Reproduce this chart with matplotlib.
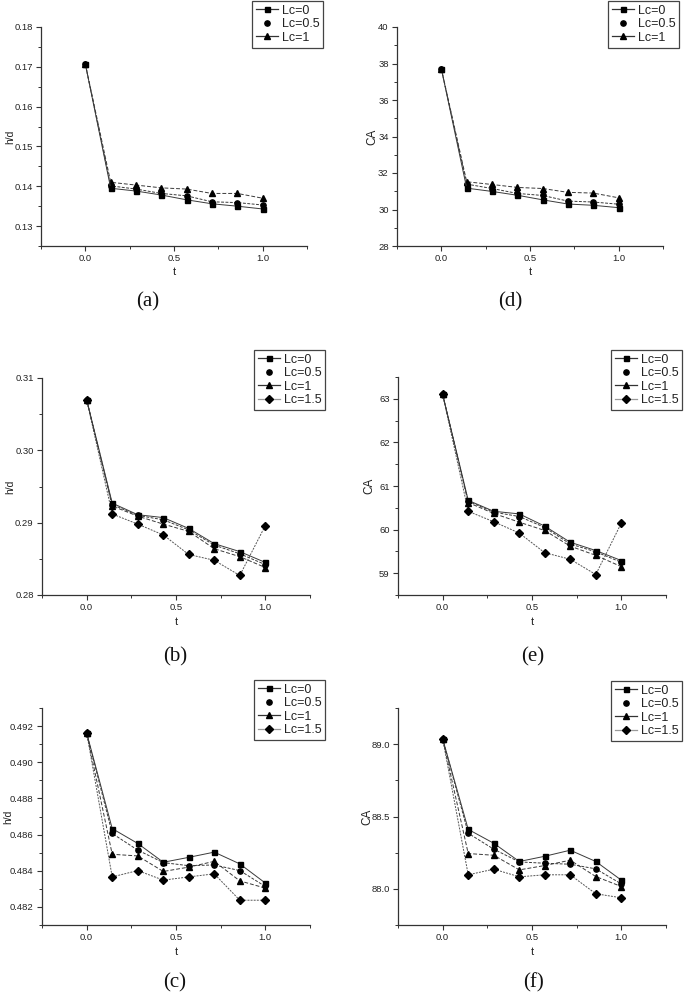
import matplotlib
matplotlib.use("Agg")
import matplotlib.pyplot as plt
from matplotlib.lines import Line2D
from matplotlib.ticker import MultipleLocator, FormatStrFormatter, FixedLocator

plt.rcParams['font.family'] = ['Liberation Sans', 'DejaVu Sans']

# ---------------- data ----------------
t = [0.0, 0.143, 0.286, 0.429, 0.571, 0.714, 0.857, 1.0]
series_names = ["Lc=0", "Lc=0.5", "Lc=1", "Lc=1.5"]

a_lc0 = [0.1707, 0.1395, 0.1388, 0.1378, 0.1366, 0.1356, 0.1350, 0.1343]
a_lc05 = [0.1707, 0.1401, 0.1393, 0.1382, 0.1376, 0.1361, 0.1359, 0.1353]
a_lc1 = [0.1707, 0.1410, 0.1403, 0.1396, 0.1393, 0.1382, 0.1382, 0.1370]

d_lc0 = [37.71, 31.17, 30.99, 30.78, 30.53, 30.30, 30.23, 30.10]
d_lc05 = [37.71, 31.39, 31.15, 30.88, 30.77, 30.46, 30.41, 30.29]
d_lc1 = [37.71, 31.52, 31.37, 31.21, 31.15, 30.94, 30.90, 30.64]

b_lc0 = [0.3070, 0.2927, 0.2911, 0.2907, 0.2892, 0.2871, 0.2860, 0.2845]
b_lc05 = [0.3070, 0.2925, 0.2910, 0.2904, 0.2890, 0.2869, 0.2857, 0.2842]
b_lc1 = [0.3070, 0.2923, 0.2909, 0.2898, 0.2888, 0.2864, 0.2853, 0.2838]
b_lc15 = [0.3070, 0.2912, 0.2898, 0.2883, 0.2856, 0.2848, 0.2827, 0.2896]

e_lc0 = [63.10, 60.67, 60.42, 60.36, 60.08, 59.71, 59.52, 59.29]
e_lc05 = [63.10, 60.65, 60.40, 60.30, 60.05, 59.67, 59.49, 59.25]
e_lc1 = [63.10, 60.62, 60.37, 60.17, 59.98, 59.62, 59.41, 59.15]
e_lc15 = [63.10, 60.42, 60.18, 59.92, 59.47, 59.32, 58.97, 60.15]

c_lc0 = [0.49162, 0.48633, 0.48551, 0.48447, 0.48474, 0.48503, 0.48438, 0.48332]
c_lc05 = [0.49162, 0.48606, 0.48514, 0.48445, 0.48428, 0.48432, 0.48401, 0.48313]
c_lc1 = [0.49162, 0.48491, 0.48482, 0.48396, 0.48420, 0.48452, 0.48344, 0.48304]
c_lc15 = [0.49162, 0.48366, 0.48401, 0.48348, 0.48366, 0.48383, 0.48237, 0.48237]

f_lc0 = [89.037, 88.411, 88.315, 88.189, 88.225, 88.267, 88.189, 88.060]
f_lc05 = [89.037, 88.384, 88.274, 88.186, 88.177, 88.170, 88.138, 88.034]
f_lc1 = [89.037, 88.244, 88.232, 88.131, 88.161, 88.198, 88.085, 88.016]
f_lc15 = [89.037, 88.097, 88.136, 88.083, 88.097, 88.097, 87.966, 87.938]

x_ticks = [0.0, 0.5, 1.0]
x_minor = [-0.25, 0.25, 0.75, 1.25]

# ---------------- style ----------------
W, H = 685, 994
fig = plt.figure(figsize=(W / 100, H / 100), dpi=100)
fig.patch.set_facecolor('white')

markers = ['s', 'o', '^', 'D']
msizes = [3.6, 3.8, 4.0, 3.6]
lstyles = ['-', (0, (3, 1.5)), (0, (4, 2)), (0, (2, 1.2))]
lcolors = ['#3a3a3a', '#3a3a3a', '#3a3a3a', '#555555']
leg_lcolors = ['#333333', None, '#333333', '#9a9a9a']
axis_col = '#333333'
text_col = '#222222'


def px_axes(x0, y0, x1, y1):
    return fig.add_axes([x0 / W, 1 - y1 / H, (x1 - x0) / W, (y1 - y0) / H])


def setup(ax, ylim, ymaj, ymin, yfmt, ylabel, ylab_x, xlab_y):
    ax.set_xlim(-0.25, 1.25)
    ax.set_ylim(*ylim)
    for s in ['top', 'right']:
        ax.spines[s].set_visible(False)
    for s in ['left', 'bottom']:
        ax.spines[s].set_color(axis_col)
        ax.spines[s].set_linewidth(0.9)
    ax.xaxis.set_major_locator(FixedLocator(x_ticks))
    ax.xaxis.set_minor_locator(FixedLocator(x_minor))
    ax.xaxis.set_major_formatter(FormatStrFormatter('%.1f'))
    ax.yaxis.set_major_locator(MultipleLocator(ymaj))
    ax.yaxis.set_minor_locator(MultipleLocator(ymin))
    ax.yaxis.set_major_formatter(FormatStrFormatter(yfmt))
    ax.tick_params(which='major', direction='out', length=3.5, width=0.8,
                   color=axis_col, labelsize=6.8, labelcolor=text_col, pad=2.5)
    ax.tick_params(which='minor', direction='out', length=2, width=0.7, color=axis_col)
    ax.set_ylabel(ylabel, fontsize=8.5 if ylabel == 'CA' else 7.5, color=text_col)
    ax.yaxis.set_label_coords(ylab_x, 0.5)
    ax.set_xlabel('t', fontsize=8, color=text_col)
    ax.xaxis.set_label_coords(0.5, xlab_y)
    ax.patch.set_alpha(0)


def draw(ax, data):
    for i, ys in enumerate(data):
        ax.plot(t, ys, linestyle=lstyles[i], color=lcolors[i], linewidth=0.7,
                marker=markers[i], markersize=msizes[i], markerfacecolor='black',
                markeredgecolor='black', zorder=3 + (len(data) - i))


def legend(ax, n, x0, y0):
    handles = []
    for i in range(n):
        if leg_lcolors[i] is None:
            h = Line2D([], [], linestyle='none', marker=markers[i], markersize=msizes[i],
                       color='black')
        else:
            h = Line2D([], [], linestyle='-', color=leg_lcolors[i], linewidth=0.9,
                       marker=markers[i], markersize=msizes[i],
                       markerfacecolor='black', markeredgecolor='black')
        handles.append(h)
    leg = ax.legend(handles, series_names[:n], loc='upper left',
                    bbox_to_anchor=(x0 / W, 1 - y0 / H), bbox_transform=fig.transFigure,
                    fontsize=9, frameon=True, fancybox=False, framealpha=1,
                    edgecolor='#444444', handlelength=1.75, handletextpad=0.35,
                    borderpad=0.3, labelspacing=0.12, borderaxespad=0.0)
    leg.get_frame().set_linewidth(0.9)
    for txt in leg.get_texts():
        txt.set_color(text_col)


# ---- row 1 ----
ax_a = px_axes(41, 27, 307, 246)
draw(ax_a, [a_lc0, a_lc05, a_lc1])
setup(ax_a, (0.125, 0.18), 0.01, 0.005, '%.2f', 'h/d', -0.098, -0.095)
legend(ax_a, 3, 252, 1)

ax_d = px_axes(397, 27, 663, 246)
draw(ax_d, [d_lc0, d_lc05, d_lc1])
setup(ax_d, (28, 40), 2, 1, '%d', 'CA', -0.071, -0.095)
legend(ax_d, 3, 608, 1)

# ---- row 2 ----
ax_b = px_axes(42, 378, 310, 595)
draw(ax_b, [b_lc0, b_lc05, b_lc1, b_lc15])
setup(ax_b, (0.28, 0.31), 0.01, 0.005, '%.2f', 'h/d', -0.10, -0.10)
legend(ax_b, 4, 254, 350)

ax_e = px_axes(398, 377, 666, 595)
draw(ax_e, [e_lc0, e_lc05, e_lc1, e_lc15])
setup(ax_e, (58.5, 63.5), 1, 0.5, '%d', 'CA', -0.086, -0.10)
legend(ax_e, 4, 611, 350)

# ---- row 3 ----
ax_c = px_axes(42, 708, 310, 925)
draw(ax_c, [c_lc0, c_lc05, c_lc1, c_lc15])
setup(ax_c, (0.481, 0.493), 0.002, 0.001, '%.3f', 'h/d', -0.108, -0.10)
legend(ax_c, 4, 254, 680)

ax_f = px_axes(398, 708, 666, 925)
draw(ax_f, [f_lc0, f_lc05, f_lc1, f_lc15])
setup(ax_f, (87.75, 89.25), 0.5, 0.25, '%.1f', 'CA', -0.093, -0.10)
legend(ax_f, 4, 611, 681)

# ---- panel labels ----
labels = [('(a)', 148, 302), ('(d)', 510, 302), ('(b)', 175, 657),
          ('(e)', 533, 657), ('(c)', 175, 983), ('(f)', 533, 983)]
for s, x, y in labels:
    fig.text(x / W, 1 - y / H, s, ha='center', va='center', fontsize=15,
             family=['Liberation Serif', 'DejaVu Serif'], color='#111111')

fig.savefig('out.png', dpi=100, facecolor='white')
